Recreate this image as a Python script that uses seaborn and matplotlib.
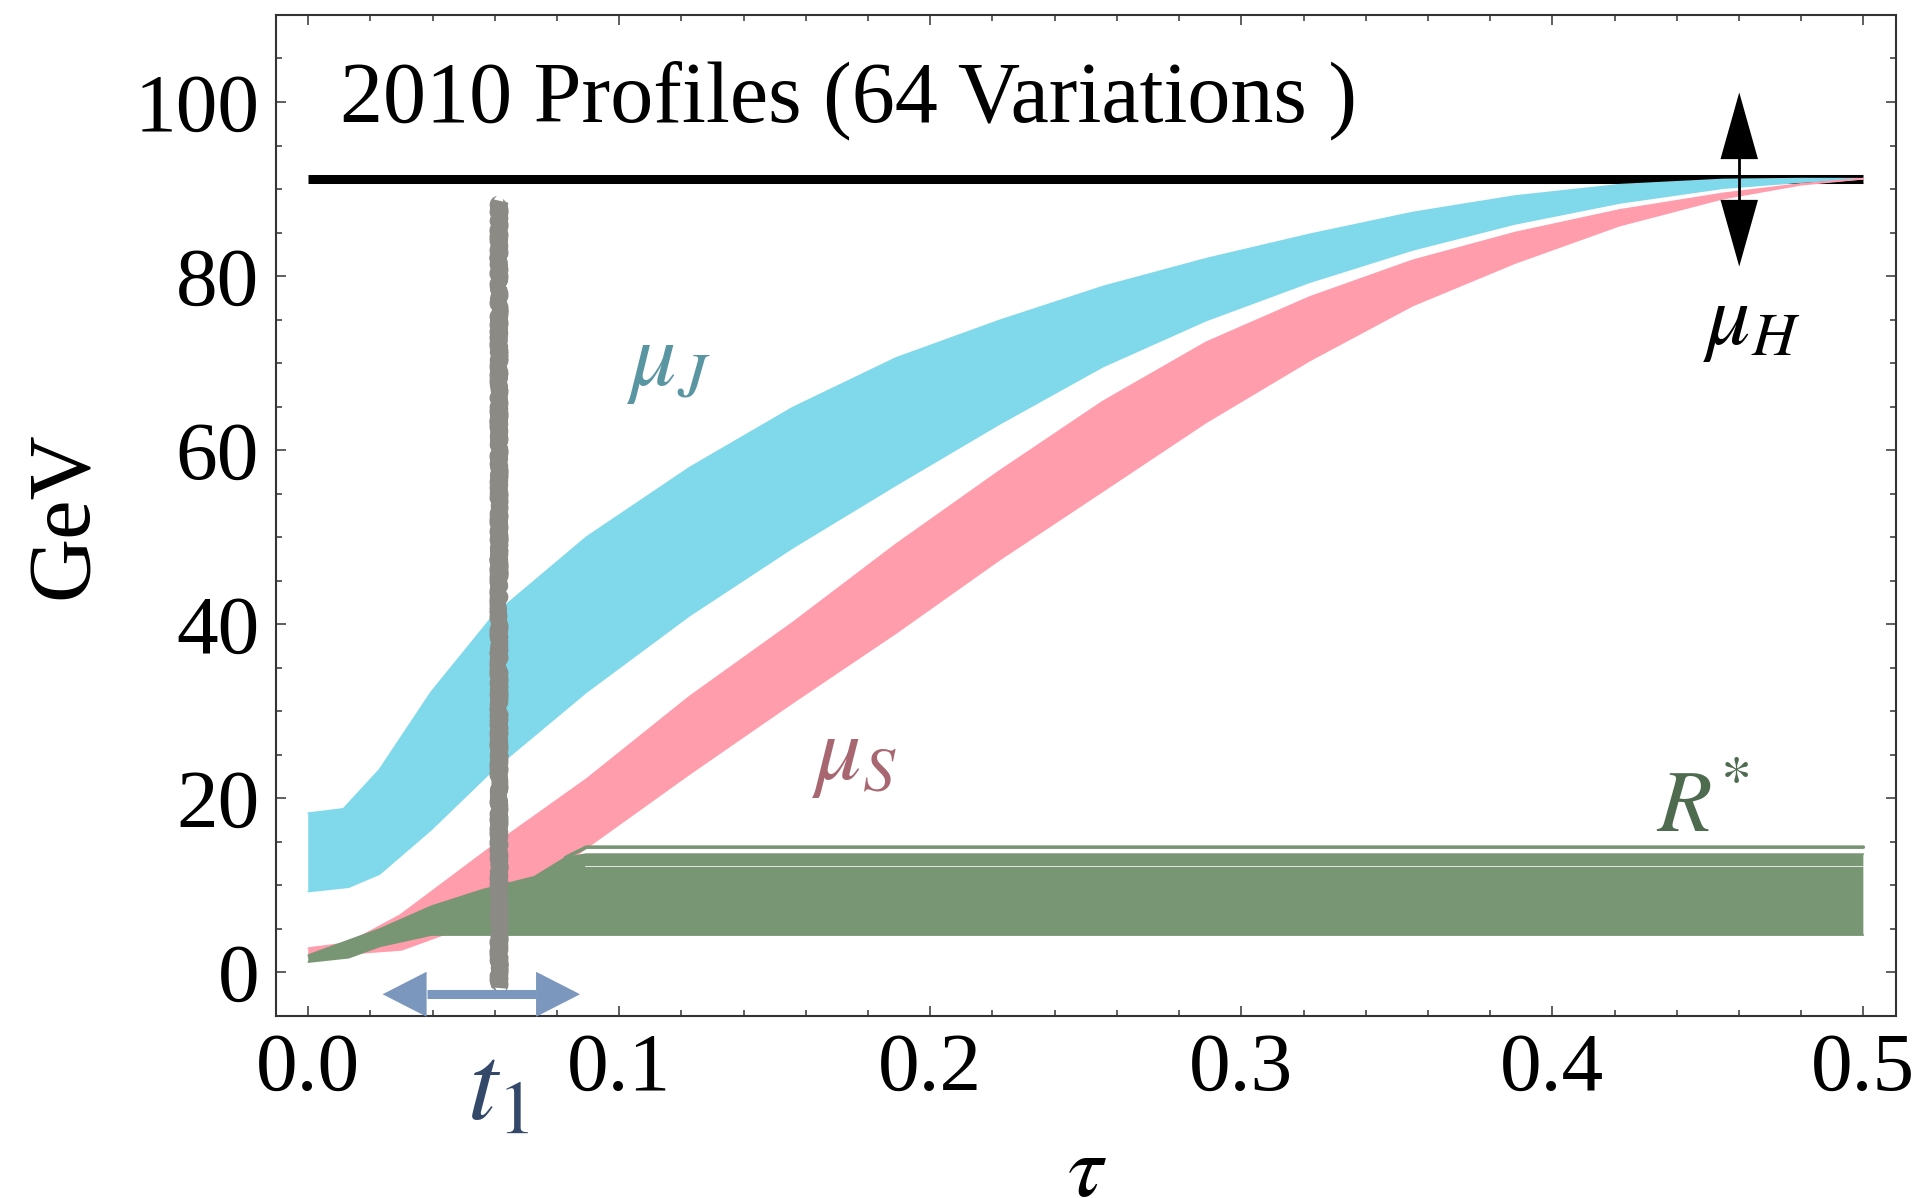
import matplotlib
matplotlib.use("Agg")
import matplotlib.pyplot as plt
import numpy as np
import seaborn as sns
from matplotlib.patches import FancyArrowPatch
from matplotlib.ticker import MultipleLocator, FormatStrFormatter

# ---- profile data (tau, GeV) ----
mu_H = 91.19

# jet scale band: upper / lower envelopes
tau_J_up = [0.0, 0.0113, 0.0229, 0.0395, 0.0595, 0.0894, 0.1226, 0.1558, 0.189, 0.2222,
            0.2555, 0.2887, 0.322, 0.355, 0.388, 0.4216, 0.4548, 0.48, 0.5]
mu_J_up = [18.3, 18.8, 23.3, 32.2, 41.0, 50.0, 58.0, 64.9, 70.6, 74.9,
           78.8, 82.0, 84.8, 87.3, 89.2, 90.5, 91.1, 91.2, 91.19]
tau_J_lo = [0.0, 0.013, 0.0229, 0.0395, 0.0595, 0.0894, 0.1226, 0.1558, 0.189, 0.2222,
            0.2555, 0.2887, 0.322, 0.355, 0.388, 0.4216, 0.4548, 0.48, 0.5]
mu_J_lo = [9.3, 9.8, 11.3, 16.4, 23.3, 32.2, 41.0, 48.8, 56.0, 63.0,
           69.6, 74.9, 79.3, 83.0, 86.0, 88.4, 90.1, 90.8, 91.19]

# soft scale band
tau_S_up = [0.0, 0.013, 0.0296, 0.0595, 0.0894, 0.1226, 0.1558, 0.189, 0.2222, 0.2555,
            0.2887, 0.322, 0.355, 0.388, 0.4216, 0.4548, 0.48, 0.5]
mu_S_up = [2.8, 3.4, 6.6, 14.6, 22.2, 31.7, 40.2, 49.2, 57.6, 65.6,
           72.4, 77.6, 81.8, 85.0, 87.6, 89.5, 90.6, 91.19]
tau_S_lo = [0.0, 0.03, 0.06, 0.0894, 0.1226, 0.1558, 0.189, 0.2222, 0.2555, 0.2887,
            0.322, 0.355, 0.388, 0.4216, 0.4548, 0.48, 0.5]
mu_S_lo = [1.8, 2.6, 6.5, 14.3, 22.8, 31.0, 39.0, 47.4, 55.3, 63.2,
           70.3, 76.6, 81.5, 85.8, 88.9, 90.5, 91.19]

# R* band
tau_R_lo = [0.0, 0.013, 0.023, 0.0395, 0.5]
R_lo = [1.2, 1.7, 3.0, 4.3, 4.3]
tau_R_up = [0.0, 0.023, 0.0395, 0.056, 0.0727, 0.0827, 0.0894, 0.5]
R_up = [2.0, 5.0, 7.6, 9.5, 11.0, 13.2, 13.6, 13.6]
tau_R_top = [0.0827, 0.0894, 0.5]
R_top = [13.2, 14.4, 14.4]

t1 = 0.0612
t1_span = [-1.8, 88.6]
t1_range = [0.0239, 0.0874]
muH_range = [81.1, 101.1]

C_J = "#80D9EA"
C_S = "#FF9DAC"
C_R = "#789674"
C_T = "#8C8A84"
C_A = "#7B97BE"

sns.set_theme(style="ticks")
plt.rcParams["font.family"] = ["Liberation Serif", "DejaVu Serif"]
plt.rcParams["mathtext.fontset"] = "stix"
plt.rcParams["text.color"] = "black"
plt.rcParams["xtick.color"] = "#333333"
plt.rcParams["ytick.color"] = "#333333"
plt.rcParams["xtick.labelcolor"] = "black"
plt.rcParams["ytick.labelcolor"] = "black"

fig = plt.figure(figsize=(19.2, 11.98), dpi=100)
ax = fig.add_axes([0.1437, 0.1519, 0.8438, 0.8356])

# hard scale mu_H
sns.lineplot(x=[0.0, 0.5], y=[mu_H, mu_H], ax=ax, color="black", lw=6.5,
             solid_capstyle="butt", zorder=1)


def band(tu, yu, tl, yl, color, z):
    xs = np.r_[tu, tl[::-1]]
    ys = np.r_[yu, yl[::-1]]
    ax.fill(xs, ys, color=color, lw=0, zorder=z)
    sns.lineplot(x=tu, y=yu, ax=ax, color=color, lw=1.2, zorder=z, sort=False)
    sns.lineplot(x=tl, y=yl, ax=ax, color=color, lw=1.2, zorder=z, sort=False)


band(tau_J_up, mu_J_up, tau_J_lo, mu_J_lo, C_J, 2)
band(tau_S_up, mu_S_up, tau_S_lo, mu_S_lo, C_S, 3)
band(tau_R_up, R_up, tau_R_lo, R_lo, C_R, 4)
sns.lineplot(x=tau_R_top, y=R_top, ax=ax, color=C_R, lw=2.6, zorder=4, sort=False)
ax.plot([0.089, 0.5], [12.2, 12.2], color="white", lw=0.7, alpha=0.8, zorder=4.5)

# t1 transition points
ln, = ax.plot([t1, t1], t1_span, color=C_T, lw=11.5, solid_capstyle="butt", zorder=6)
ln.set_sketch_params(scale=1.6, length=6, randomness=20)

# t1 range arrow
yb = -2.5
hl = 44 / 3110
ax.plot([t1_range[0] + hl, t1_range[1] - hl], [yb, yb], color=C_A, lw=6.5,
        solid_capstyle="butt", zorder=7, clip_on=False)
ax.add_patch(FancyArrowPatch((t1_range[0], yb), (t1_range[1], yb),
                             arrowstyle="<|-|>,head_length=3.17,head_width=1.62",
                             mutation_scale=10, lw=0, color=C_A, shrinkA=0,
                             shrinkB=0, zorder=7, clip_on=False))

# mu_H variation arrow
xh = 0.4601
ax.plot([xh, xh], [muH_range[0] + 2, muH_range[1] - 2], color="black", lw=2, zorder=8)
ax.add_patch(FancyArrowPatch((xh, muH_range[0]), (xh, muH_range[1]),
                             arrowstyle="<|-|>,head_length=4.8,head_width=1.35",
                             mutation_scale=10, lw=0, color="black", shrinkA=0,
                             shrinkB=0, zorder=8))

# labels
ax.text(0.0102, 97.8, "2010 Profiles (64 Variations )", fontsize=62,
        ha="left", va="baseline", color="black", zorder=9)
ax.text(0.1157, 69.8, r"$\mu_J$", fontsize=66, color="#5A95A2", ha="center", va="center")
ax.text(0.1754, 24.6, r"$\mu_S$", fontsize=66, color="#A86770", ha="center", va="center")
ax.text(0.4485, 18.6, r"$R^{*}$", fontsize=64, color="#4E6B50", ha="center", va="center")
ax.text(0.4643, 74.6, r"$\mu_H$", fontsize=63, color="black", ha="center", va="center")
ax.text(0.061, -13.9, r"$t_1$", fontsize=78, color="#34496A", ha="center", va="center",
        clip_on=False)

fig.text(65 / 1920, 1 - 515 / 1198, "GeV", rotation=90, fontsize=64,
         ha="center", va="center", color="black")
fig.text(1087 / 1920, 1 - 1196 / 1198, r"$\tau$", fontsize=64, ha="center",
         va="baseline", color="black")

ax.set_xlim(-0.0104, 0.5105)
ax.set_ylim(-5, 110)
ax.set_xlabel("")
ax.set_ylabel("")
ax.xaxis.set_major_locator(MultipleLocator(0.1))
ax.xaxis.set_minor_locator(MultipleLocator(0.02))
ax.yaxis.set_major_locator(MultipleLocator(20))
ax.yaxis.set_minor_locator(MultipleLocator(5))
ax.xaxis.set_major_formatter(FormatStrFormatter("%.1f"))
ax.tick_params(which="both", direction="in", top=True, right=True, width=1.1,
               color="#333333", labelcolor="black", labelsize=60, pad=12)
ax.tick_params(which="major", length=7.5)
ax.tick_params(which="minor", length=4.5)
for s in ax.spines.values():
    s.set_linewidth(1.5)
    s.set_color("#333333")
ax.set_facecolor("white")
fig.patch.set_facecolor("white")

fig.savefig("out.png", dpi=100, facecolor="white")
